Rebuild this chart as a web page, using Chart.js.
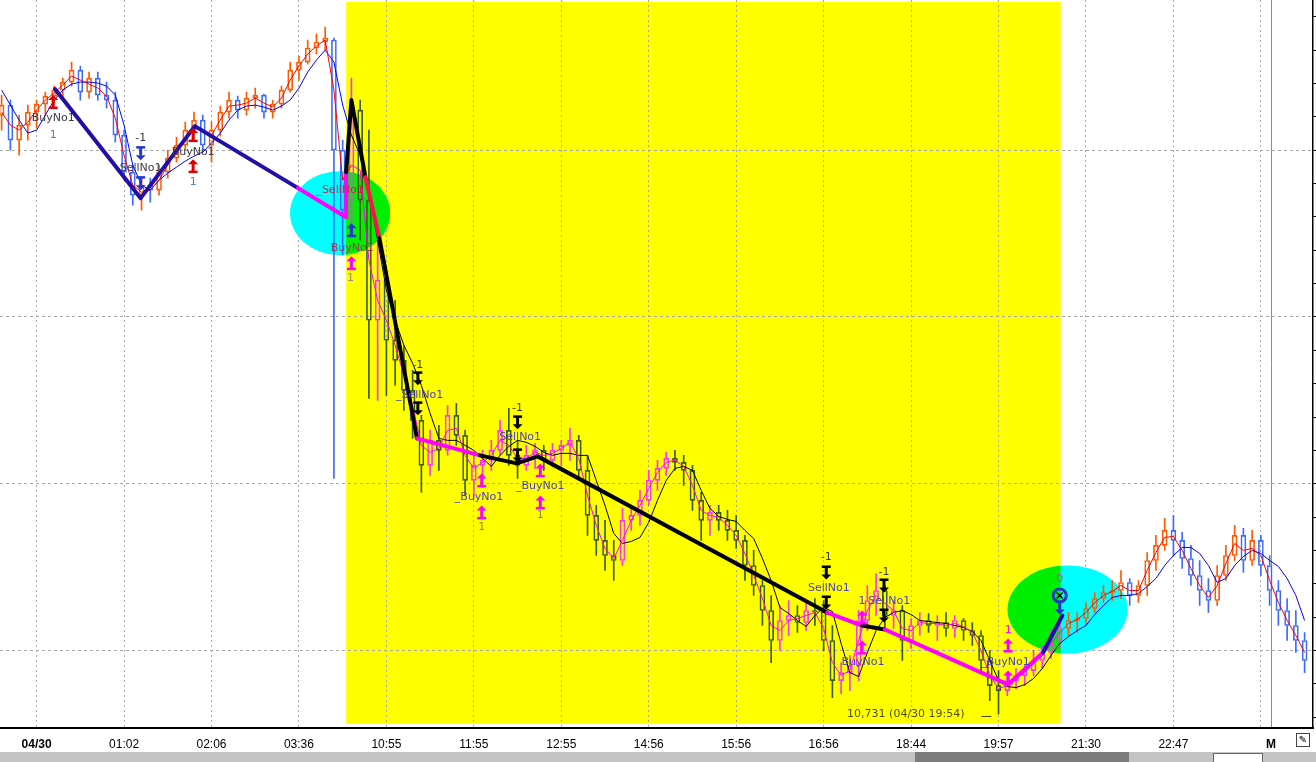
<!DOCTYPE html>
<html>
<head>
<meta charset="utf-8">
<script src="https://cdn.jsdelivr.net/npm/chart.js@4/dist/chart.umd.min.js"></script>
<style>
  body { margin: 0; background: #fff; }
  #wrap { position: relative; width: 1316px; height: 762px; overflow: hidden; }
  #myChart { position: absolute; left: 0; top: 0; }
  #strip { position: absolute; left: 0; top: 752px; width: 1316px; height: 10px; background: #c4c4c4; }
  #strip .dark { position: absolute; left: 915px; top: 0; width: 214px; height: 10px; background: #7c7c7c; }
  #strip .box { position: absolute; left: 1213px; top: 1px; width: 48px; height: 9px; background: #fff; border: 1px solid #666; }
  #pen { position: absolute; left: 1296px; top: 733px; width: 12px; height: 12px; border: 1px solid #444;
         font: 10px "DejaVu Sans"; line-height: 12px; text-align: center; background: #fff; }
</style>
</head>
<body>
<div id="wrap">
  <canvas id="myChart" width="1316" height="762"></canvas>
  <div id="strip"><div class="dark"></div><div class="box"></div></div>
  <div id="pen">&#9998;</div>
</div>
<script>
// x axis: bar index, labels at these bars
const xTickIdx = [4, 14, 24, 34, 44, 54, 64, 74, 84, 94, 104, 114, 124, 134, 144, 145.16];
const xLabels = ['04/30', '01:02', '02:06', '03:36', '10:55', '11:55', '12:55', '14:56', '15:56', '16:56', '18:44', '19:57', '21:30', '22:47', '', 'M'];

// price axis (no labels, only marks)
const yTicks = [10730, 10740, 10750, 10760, 10770, 10780, 10790, 10800, 10810, 10820, 10830,
  10840, 10850, 10860, 10870, 10880, 10890, 10900, 10910, 10920, 10930, 10940];
const yGrid = [10750, 10800, 10850, 10900];

const opens = [10910.5,10913.5,10903.0,10907.5,10911.4,10913.8,10916.2,10918.0,10920.4,10924.0,
  10917.4,10921.6,10916.5,10915.0,10904.5,10893.4,10886.5,10889.5,10888.0,10893.4,
  10897.6,10901.5,10906.0,10909.0,10901.5,10906.0,10911.4,10915.0,10912.0,10915.6,
  10916.5,10911.4,10913.8,10918.0,10924.0,10926.4,10930.6,10932.4,10933.0,10900.0,
  10885.0,10912.0,10885.0,10849.0,10861.0,10843.0,10837.0,10828.0,10819.0,10805.5,
  10813.0,10810.0,10820.5,10814.5,10801.0,10805.5,10807.0,10810.0,10816.0,10808.5,
  10805.5,10808.5,10810.0,10807.0,10810.0,10811.5,10813.0,10804.0,10790.5,10783.0,
  10778.5,10777.0,10789.0,10790.5,10795.0,10801.0,10804.6,10807.6,10806.4,10804.0,
  10795.0,10789.0,10791.4,10789.0,10786.0,10783.0,10775.5,10769.5,10762.0,10753.0,
  10759.0,10760.5,10758.4,10762.0,10761.6,10753.0,10741.0,10743.4,10745.5,10759.0,
  10765.0,10768.0,10760.5,10762.0,10753.0,10757.5,10759.0,10757.5,10758.4,10756.6,
  10759.0,10756.0,10754.5,10747.0,10739.5,10738.0,10741.0,10742.5,10744.0,10747.0,
  10749.4,10753.0,10756.6,10759.0,10759.6,10762.6,10765.6,10767.4,10768.0,10770.4,
  10766.5,10769.5,10777.0,10781.5,10786.0,10783.0,10777.6,10772.5,10768.0,10765.0,
  10772.5,10778.5,10784.5,10777.0,10783.0,10775.5,10768.0,10762.0,10757.5,10753.0];

const highs = [10916.5,10915.0,10910.5,10913.5,10915.0,10917.4,10919.2,10921.6,10926.4,10925.2,
  10923.4,10923.4,10920.4,10917.4,10906.0,10895.5,10891.6,10891.6,10895.5,10900.0,
  10903.9,10908.4,10911.4,10910.5,10908.4,10913.2,10917.4,10916.2,10917.4,10918.6,
  10916.8,10915.0,10919.2,10926.4,10928.2,10933.0,10934.8,10936.9,10933.6,10903.0,
  10921.6,10915.0,10906.0,10873.0,10864.0,10855.0,10841.5,10834.0,10820.5,10816.0,
  10817.5,10823.5,10824.1,10816.0,10808.5,10810.0,10813.0,10819.0,10822.6,10813.0,
  10811.5,10812.1,10811.5,10812.1,10813.0,10816.6,10814.5,10808.5,10793.5,10789.0,
  10783.0,10792.6,10793.5,10798.0,10804.0,10807.0,10809.4,10810.0,10808.5,10805.5,
  10797.4,10793.5,10793.5,10792.0,10790.5,10784.5,10780.0,10771.0,10766.5,10763.5,
  10765.0,10763.5,10765.0,10765.6,10765.0,10757.5,10746.4,10748.5,10762.0,10769.5,
  10773.1,10769.5,10765.0,10763.5,10759.6,10761.4,10761.1,10760.5,10761.4,10760.5,
  10759.6,10758.4,10756.0,10750.0,10744.0,10743.4,10744.6,10745.5,10750.0,10751.5,
  10756.0,10759.0,10761.4,10761.4,10764.4,10767.4,10769.5,10771.0,10774.0,10771.6,
  10771.0,10779.4,10784.5,10789.6,10790.5,10785.4,10781.5,10777.0,10771.6,10775.5,
  10781.5,10787.5,10786.6,10786.0,10784.5,10778.5,10771.0,10765.6,10762.0,10755.4];

const lows = [10906.0,10900.0,10898.5,10903.0,10906.6,10910.5,10914.1,10915.0,10919.2,10915.0,
  10915.6,10915.0,10912.6,10902.4,10891.0,10883.5,10882.0,10884.4,10886.5,10891.6,
  10896.4,10900.0,10903.6,10899.4,10896.4,10904.2,10909.6,10909.6,10910.5,10912.6,
  10909.6,10909.6,10912.6,10917.4,10921.0,10925.8,10928.8,10930.0,10801.6,10868.5,
  10876.0,10873.0,10825.6,10825.0,10826.5,10829.5,10822.0,10813.6,10797.4,10802.5,
  10804.0,10808.5,10811.5,10796.5,10795.9,10802.5,10804.0,10808.5,10805.5,10801.6,
  10804.0,10804.6,10804.0,10805.2,10805.5,10807.0,10801.0,10784.5,10778.5,10774.0,
  10771.0,10775.5,10786.0,10787.5,10793.5,10798.0,10802.5,10804.0,10799.5,10792.0,
  10783.0,10784.5,10786.0,10783.0,10780.6,10771.0,10766.5,10757.5,10746.4,10750.0,
  10754.5,10755.4,10756.0,10757.5,10750.0,10735.9,10737.1,10738.0,10741.0,10756.0,
  10760.5,10756.0,10756.6,10747.0,10750.6,10754.5,10755.4,10753.0,10754.2,10753.9,
  10753.0,10751.5,10743.4,10735.0,10731.0,10736.5,10738.6,10739.5,10742.5,10744.6,
  10747.6,10750.6,10754.5,10755.4,10757.5,10761.4,10764.4,10765.0,10765.6,10763.5,
  10764.4,10766.5,10774.0,10780.0,10778.5,10774.6,10769.5,10763.5,10761.4,10763.5,
  10771.0,10777.0,10773.4,10775.5,10772.5,10763.5,10757.5,10753.0,10749.4,10743.4];

const closes = [10913.5,10903.0,10907.5,10911.4,10913.8,10916.2,10918.0,10920.4,10924.0,10917.4,
  10921.6,10916.5,10915.0,10904.5,10893.4,10886.5,10889.5,10888.0,10893.4,10897.6,
  10901.5,10906.0,10909.0,10901.5,10906.0,10911.4,10915.0,10912.0,10915.6,10916.5,
  10911.4,10913.8,10918.0,10924.0,10926.4,10930.6,10932.4,10933.6,10900.0,10882.0,
  10912.0,10885.0,10849.0,10861.0,10843.0,10837.0,10828.0,10819.0,10805.5,10813.0,
  10810.0,10820.5,10814.5,10801.0,10805.5,10807.0,10810.0,10816.0,10808.5,10805.5,
  10808.5,10810.0,10807.0,10810.0,10811.5,10813.0,10804.0,10790.5,10783.0,10778.5,
  10777.0,10789.0,10790.5,10795.0,10801.0,10804.6,10807.6,10806.4,10804.0,10795.0,
  10789.0,10791.4,10789.0,10786.0,10783.0,10775.5,10769.5,10762.0,10753.0,10759.0,
  10760.5,10758.4,10762.0,10761.6,10753.0,10741.0,10743.4,10745.5,10759.0,10765.0,
  10768.0,10760.5,10762.0,10753.0,10757.5,10759.0,10757.5,10758.4,10756.6,10759.0,
  10756.0,10754.5,10747.0,10739.5,10738.0,10741.0,10742.5,10744.0,10747.0,10749.4,
  10753.0,10756.6,10759.0,10759.6,10762.6,10765.6,10767.4,10768.0,10770.4,10766.5,
  10769.5,10777.0,10781.5,10786.0,10783.0,10777.6,10772.5,10768.0,10765.0,10772.5,
  10778.5,10784.5,10777.0,10783.0,10775.5,10768.0,10762.0,10757.5,10753.0,10747.0];

// moving averages as drawn on the chart
const maFast = [10911.4,10907.5,10906.0,10908.4,10912.0,10915.0,10917.1,10919.5,10922.2,10921.0,
  10919.8,10918.6,10916.2,10909.6,10898.5,10889.5,10887.4,10888.0,10891.0,10895.5,
  10900.0,10903.9,10907.5,10905.4,10904.5,10909.0,10913.2,10913.5,10914.1,10915.6,
  10914.1,10912.9,10915.6,10921.0,10925.2,10928.8,10931.2,10933.0,10918.0,10891.0,
  10895.5,10894.0,10867.0,10855.0,10849.0,10841.5,10832.5,10823.5,10811.5,10809.4,
  10810.6,10816.0,10816.6,10808.5,10804.6,10806.4,10808.5,10813.0,10811.5,10807.6,
  10807.6,10809.4,10808.5,10809.1,10810.6,10812.4,10807.6,10796.5,10787.5,10780.6,
  10777.6,10783.0,10789.0,10793.5,10798.6,10803.4,10806.4,10807.0,10805.2,10799.5,
  10792.0,10790.5,10789.9,10787.5,10784.5,10779.1,10772.5,10765.6,10757.5,10756.0,
  10759.0,10759.6,10760.5,10761.4,10756.6,10746.4,10742.5,10744.0,10753.0,10762.0,
  10766.5,10764.1,10762.0,10756.6,10756.0,10758.4,10758.1,10758.1,10757.5,10758.1,
  10757.2,10755.4,10750.0,10742.5,10738.6,10739.5,10741.6,10743.4,10746.1,10748.5,
  10752.1,10755.4,10758.1,10759.3,10761.4,10764.4,10766.5,10767.7,10769.5,10768.0,
  10768.0,10774.0,10779.4,10783.9,10784.2,10780.0,10774.6,10769.5,10765.9,10769.5,
  10776.1,10782.1,10780.0,10780.6,10778.5,10771.0,10764.4,10759.0,10754.5,10749.4];

const maSlow = [10918.0,10913.5,10909.0,10905.1,10906.0,10910.5,10915.0,10918.0,10919.8,10920.4,
  10920.4,10920.1,10919.2,10916.5,10907.5,10895.5,10889.5,10888.0,10891.0,10893.1,
  10894.9,10896.7,10898.2,10899.4,10902.1,10905.1,10909.0,10912.0,10913.2,10913.5,
  10912.9,10912.0,10913.2,10915.0,10918.6,10923.4,10927.0,10930.0,10926.4,10913.5,
  10904.5,10898.5,10888.0,10873.0,10858.0,10849.0,10841.5,10836.1,10829.5,10821.1,
  10813.6,10813.0,10813.0,10811.5,10810.0,10807.6,10805.2,10808.5,10811.2,10813.0,
  10812.4,10811.2,10809.4,10808.5,10809.1,10809.1,10808.5,10808.5,10801.0,10793.5,
  10785.1,10782.1,10782.7,10783.9,10788.4,10795.0,10801.0,10804.6,10805.2,10804.0,
  10798.0,10792.6,10790.2,10789.3,10788.7,10786.0,10783.6,10777.6,10771.0,10762.9,
  10761.1,10759.0,10757.2,10760.5,10762.9,10761.7,10752.1,10743.4,10742.2,10749.4,
  10756.0,10759.9,10761.4,10762.0,10760.8,10759.0,10758.7,10758.4,10758.1,10757.5,
  10756.9,10755.7,10753.0,10747.0,10741.0,10739.2,10738.9,10739.8,10741.6,10744.6,
  10748.5,10752.1,10754.2,10756.0,10757.5,10760.8,10763.5,10765.9,10766.5,10766.5,
  10767.1,10769.2,10771.6,10775.5,10778.5,10780.9,10780.9,10779.1,10775.5,10770.4,
  10771.6,10775.5,10778.2,10780.0,10779.1,10777.0,10775.2,10771.6,10766.5,10759.0];

// zigzag of the trades
const zzIdx = [6.1, 15.9, 22.1, 33.9, 39.4, 39.4, 40.0, 41.6, 43.2, 47.5, 54.7, 58.9, 61.3, 94.4, 98.4, 101.0, 115.1, 119.1, 121.3];
const zzPrice = [10918.3, 10885.6, 10907.2, 10888.6, 10879.9, 10893.4, 10915.0, 10891.9, 10873.6, 10813.6,
  10808.5, 10806.1, 10808.2, 10761.4, 10757.5, 10756.3, 10739.8, 10749.4, 10760.5];
const zzLeg = ['out', 'out', 'out', 'flat', 'flat', 'short', 'short', 'stop', 'short', 'flat',
  'short', 'short', 'short', 'flat', 'short', 'flat', 'flat', 'out'];

// highlighted session (bar index from/to, price top/bottom)
const shadeSpan = [39.4, 121.1];
const shadeTop = 10944.4;
const shadeBottom = 10728.1;

// entry / exit circles (bar index, price)
const rings = [[38.7, 10881.1], [121.9, 10762.3]];

// signal marks: [bar index, price, text or mark, colour key]
const notes = [
  [5.9, 10914.4, 'buy', 'red'], [5.9, 10909.6, 'BuyNo1', 'ink'], [5.9, 10904.5, '1', 'num'],
  [15.9, 10903.6, '-1', 'ink'], [15.9, 10899.1, 'sell', 'blue'], [15.9, 10894.6, 'SellNo1', 'ink'], [15.9, 10890.1, 'sell', 'blue'],
  [21.9, 10904.5, 'buy', 'red'], [21.9, 10899.4, 'BuyNo1', 'ink'], [21.9, 10895.2, 'buy', 'red'], [21.9, 10890.4, '1', 'num'],
  [38.7, 10888.0, '_SellNo1', 'crim'],
  [40.0, 10876.0, 'buy', 'blue'], [40.1, 10870.6, 'BuyNo1', 'brown'], [40.0, 10866.1, 'buy', 'mag'], [39.9, 10861.6, '1', 'grey'],
  [47.6, 10835.5, '-1', 'ink'], [47.6, 10831.6, 'sell', 'blk'], [47.8, 10826.5, '_SellNo1', 'inkY'], [47.6, 10822.6, 'sell', 'blk'],
  [59.0, 10822.6, '-1', 'ink'], [59.0, 10818.4, 'sell', 'blk'], [59.3, 10813.9, 'SellNo1', 'inkY'], [59.0, 10808.5, 'sell', 'blk'],
  [54.9, 10801.0, 'buy', 'mag'], [54.6, 10795.9, '_BuyNo1', 'inkY'], [54.9, 10791.4, 'buy', 'mag'], [54.9, 10786.9, '1', 'numY'],
  [61.6, 10804.0, 'buy', 'mag'], [61.6, 10799.2, '_BuyNo1', 'inkY'], [61.6, 10794.4, 'buy', 'mag'], [61.6, 10790.5, '1', 'numY'],
  [94.3, 10777.9, '-1', 'ink'], [94.3, 10773.4, 'sell', 'blk'], [94.6, 10768.6, 'SellNo1', 'inkY'], [94.3, 10764.4, 'sell', 'blk'],
  [100.9, 10773.4, '-1', 'ink'], [100.9, 10769.5, 'sell', 'blk'], [101.5, 10764.7, 'SellNo1', 'inkY'], [100.9, 10760.5, 'sell', 'blk'],
  [98.4, 10764.7, '1', 'inkY'], [98.4, 10759.9, 'buy', 'mag'], [98.4, 10750.9, 'buy', 'mag'], [98.5, 10746.4, 'BuyNo1', 'inkY'],
  [115.1, 10756.0, '1', 'mag'], [115.1, 10751.5, 'buy', 'mag'], [114.8, 10746.4, '_BuyNo1', 'inkY'], [115.1, 10741.9, 'buy', 'mag'],
  [121.0, 10771.3, '0', 'pink'], [121.0, 10766.5, 'exit', 'blue'], [121.0, 10762.9, 'down', 'blue'],
  [103.4, 10730.8, '10,731 (04/30 19:54)', 'olive'], [112.6, 10730.4, '\u2014', 'blk']
];

const palette = {
  red: '#e00000', blue: '#2438c8', mag: '#ff00ff', blk: '#000000', ink: '#3a3a4a', inkY: '#4a3ec8',
  num: '#5a7fb8', numY: '#8a8a40', crim: '#d0204c', brown: '#a03a5a', olive: '#4e4e1c', grey: '#909070', pink: '#c040c0'
};
const legColor = { out: '#2010a8', flat: '#ff00ff', short: '#000010', stop: '#ff1050' };

document.addEventListener('DOMContentLoaded', myLoadEvent);

function inShade(i) {
  return i >= shadeSpan[0] && i <= shadeSpan[1];
}

function barColor(i) {
  if (i === undefined) return '#000';
  const up = closes[i] >= opens[i];
  if (inShade(i)) return up ? '#ff33ff' : '#3b5e00';
  return up ? '#ff5a00' : '#3d6bff';
}

function drawArrow(ctx, x, y, dir, color, withBar) {
  ctx.save();
  ctx.translate(x, y);
  ctx.scale(1, dir);
  ctx.fillStyle = color;
  ctx.beginPath();
  ctx.moveTo(0, -7);
  ctx.lineTo(5, -2);
  ctx.lineTo(-5, -2);
  ctx.closePath();
  ctx.fill();
  ctx.fillRect(-1.5, -2.5, 3, 7.5);
  if (withBar) ctx.fillRect(-4.5, 4.5, 9, 2.5);
  ctx.restore();
}

const overlays = {
  id: 'overlays',
  beforeDraw(chart) {
    const { ctx, scales: { x, y } } = chart;
    const l = x.getPixelForValue(shadeSpan[0]);
    const r = x.getPixelForValue(shadeSpan[1]);
    const t = y.getPixelForValue(shadeTop);
    const b = y.getPixelForValue(shadeBottom);
    ctx.save();
    ctx.fillStyle = '#ffff00';
    ctx.fillRect(l, t, r - l, b - t);
    ctx.restore();
  },
  beforeDatasetsDraw(chart) {
    const { ctx, scales: { x, y } } = chart;
    const l = x.getPixelForValue(shadeSpan[0]);
    const r = x.getPixelForValue(shadeSpan[1]);
    const t = y.getPixelForValue(shadeTop);
    const b = y.getPixelForValue(shadeBottom);
    rings.forEach(([i, p], k) => {
      const cx = x.getPixelForValue(i);
      const cy = y.getPixelForValue(p);
      const rx = k === 0 ? 50 : 60;
      const ry = k === 0 ? 42 : 44;
      ctx.save();
      ctx.beginPath();
      ctx.ellipse(cx, cy, rx, ry, 0, 0, Math.PI * 2);
      ctx.fillStyle = '#00ffff';
      ctx.fill();
      ctx.beginPath();
      ctx.rect(l, t, r - l, b - t);
      ctx.clip();
      ctx.beginPath();
      ctx.ellipse(cx, cy, rx, ry, 0, 0, Math.PI * 2);
      ctx.fillStyle = '#00ee00';
      ctx.fill();
      ctx.restore();
    });
  },
  afterDatasetsDraw(chart) {
    const { ctx, scales: { x, y } } = chart;
    ctx.save();
    ctx.font = '11px "DejaVu Sans"';
    ctx.textAlign = 'center';
    ctx.textBaseline = 'middle';
    notes.forEach(([i, p, t, c]) => {
      const px = x.getPixelForValue(i);
      const py = y.getPixelForValue(p);
      const col = palette[c];
      if (t === 'buy') drawArrow(ctx, px, py, 1, col, true);
      else if (t === 'sell') drawArrow(ctx, px, py, -1, col, true);
      else if (t === 'down') drawArrow(ctx, px, py, -1, col, false);
      else if (t === 'exit') {
        ctx.beginPath();
        ctx.arc(px, py, 6.5, 0, Math.PI * 2);
        ctx.lineWidth = 3;
        ctx.strokeStyle = col;
        ctx.stroke();
        ctx.lineWidth = 1.5;
        ctx.strokeStyle = '#000';
        ctx.beginPath();
        ctx.moveTo(px - 3, py - 3); ctx.lineTo(px + 3, py + 3);
        ctx.moveTo(px + 3, py - 3); ctx.lineTo(px - 3, py + 3);
        ctx.stroke();
      } else {
        ctx.fillStyle = col;
        ctx.fillText(t, px, py);
      }
    });
    ctx.restore();
  }
};

function myLoadEvent() {
  const ctx = document.getElementById('myChart');

  new Chart(ctx, {
    type: 'bar',
    data: {
      datasets: [
        {
          type: 'line',
          label: 'zigzag',
          data: zzIdx.map((v, k) => ({ x: v, y: zzPrice[k] })),
          borderColor: legColor.out,
          borderWidth: 4,
          borderCapStyle: 'round',
          borderJoinStyle: 'round',
          pointRadius: 0,
          segment: { borderColor: c => legColor[zzLeg[c.p0DataIndex]] },
          order: 0
        },
        {
          type: 'line',
          label: 'fast',
          data: maFast.map((v, i) => ({ x: i, y: v })),
          borderColor: '#ff0000',
          borderWidth: 1,
          pointRadius: 0,
          segment: { borderColor: c => inShade(c.p0.parsed.x) ? '#ff00ff' : '#ff0000' },
          order: 1
        },
        {
          type: 'line',
          label: 'slow',
          data: maSlow.map((v, i) => ({ x: i, y: v })),
          borderColor: '#0000ff',
          borderWidth: 1,
          pointRadius: 0,
          segment: { borderColor: c => inShade(c.p0.parsed.x) ? '#000000' : '#0000ff' },
          order: 2
        },
        {
          label: 'body',
          data: opens.map((o, i) => ({ x: i, y: [o, closes[i]] })),
          backgroundColor: 'rgba(0,0,0,0)',
          borderColor: c => barColor(c.dataIndex),
          borderWidth: 1,
          borderSkipped: false,
          barThickness: 5,
          grouped: false,
          order: 3
        },
        {
          label: 'upper wick',
          data: opens.map((o, i) => ({ x: i, y: [Math.max(o, closes[i]), highs[i]] })),
          backgroundColor: c => barColor(c.dataIndex),
          barThickness: 1,
          grouped: false,
          order: 4
        },
        {
          label: 'lower wick',
          data: opens.map((o, i) => ({ x: i, y: [lows[i], Math.min(o, closes[i])] })),
          backgroundColor: c => barColor(c.dataIndex),
          barThickness: 1,
          grouped: false,
          order: 5
        }
      ]
    },
    options: {
      responsive: false,
      animation: false,
      events: [],
      devicePixelRatio: 1,
      layout: { padding: 0 },
      plugins: {
        legend: { display: false },
        tooltip: { enabled: false }
      },
      scales: {
        x: {
          type: 'linear',
          min: -0.185,
          max: 149.96,
          offset: false,
          afterBuildTicks: s => { s.ticks = xTickIdx.map(v => ({ value: v })); },
          grid: {
            offset: false,
            drawTicks: false,
            color: c => (c.tick && c.tick.value > 145) ? '#8c8c8c' : '#a8a8a8'
          },
          border: {
            color: '#000',
            width: 2,
            dash: c => (c.type === 'tick' && c.tick.value < 145) ? [2, 3] : []
          },
          ticks: {
            autoSkip: false,
            maxRotation: 0,
            padding: 10,
            color: '#000',
            font: c => ({
              family: '"Liberation Sans", Arial',
              size: 12,
              weight: (c.tick && (c.tick.label === '04/30' || c.tick.label === 'M')) ? 'bold' : 'normal'
            }),
            callback: (v, idx) => xLabels[idx]
          }
        },
        y: {
          position: 'right',
          min: 10726.9,
          max: 10945,
          beginAtZero: false,
          afterBuildTicks: s => { s.ticks = yTicks.map(v => ({ value: v })); },
          grid: {
            color: c => (c.tick && yGrid.includes(c.tick.value)) ? '#a8a8a8' : 'rgba(0,0,0,0)',
            tickColor: '#000',
            tickLength: 3,
            drawTicks: true
          },
          border: {
            color: '#000',
            width: 1.5,
            dash: c => c.type === 'tick' ? [3, 3] : []
          },
          ticks: { display: false }
        }
      }
    },
    plugins: [overlays]
  });
}
</script>
</body>
</html>
